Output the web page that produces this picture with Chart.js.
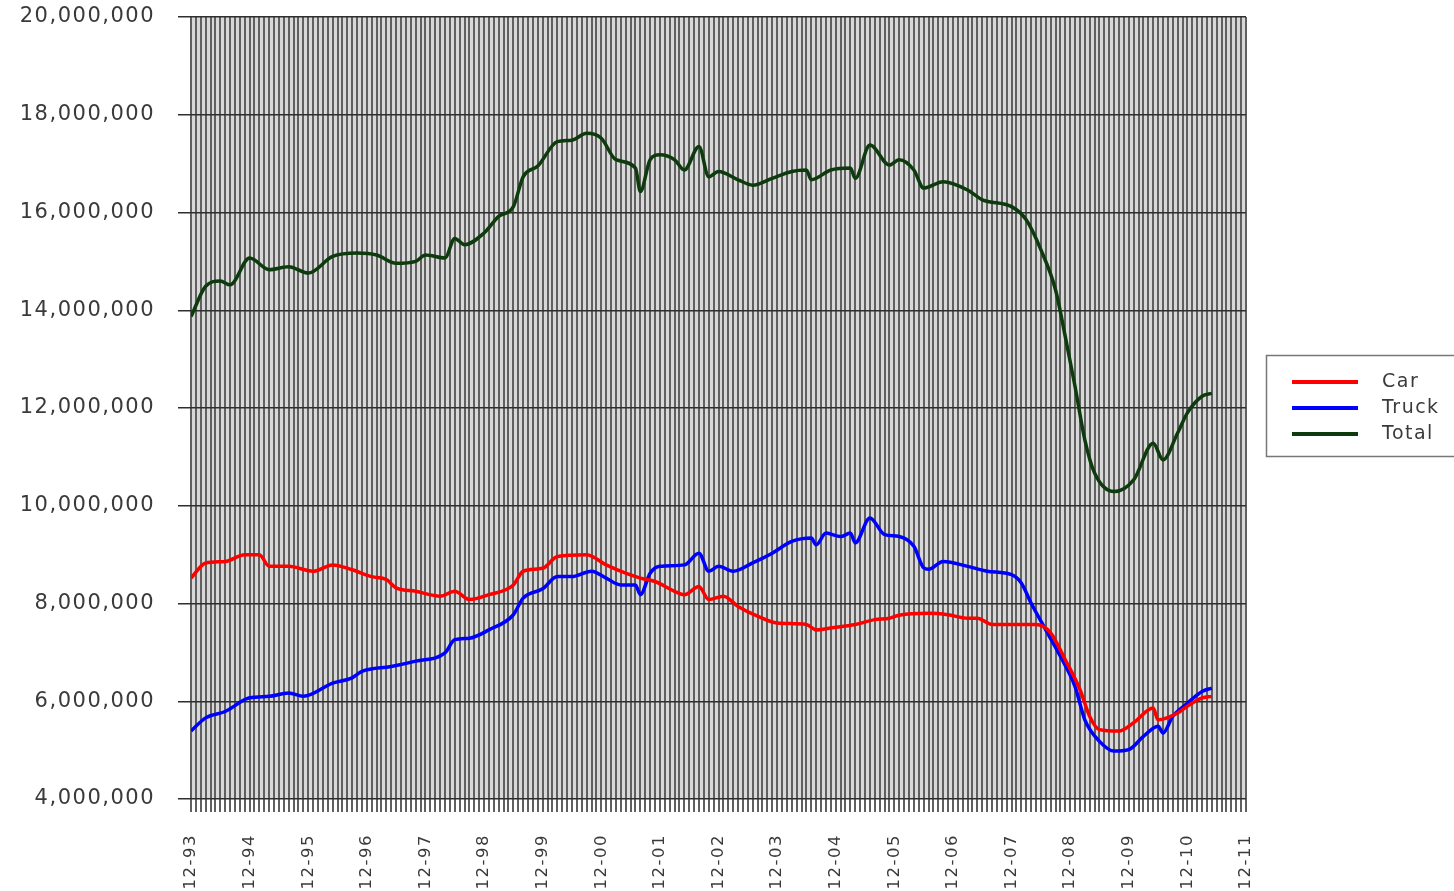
<!DOCTYPE html>
<html>
<head>
<meta charset="utf-8">
<script src="https://cdn.jsdelivr.net/npm/chart.js@4.4.1/dist/chart.umd.min.js"></script>
<style>
  html, body { margin: 0; padding: 0; background: #fff; }
  #chart-wrap { width: 1454px; height: 891px; }
</style>
</head>
<body>
<div id="chart-wrap"><canvas id="chart"></canvas></div>
<script>
// months counted from 12-93 (0) to 12-11 (216); values in millions
const TOTAL_MONTHS = [0, 3, 6, 8, 12, 16, 20, 24, 29, 34, 38, 42, 46, 48, 52, 54, 56, 60, 63, 66, 68, 71, 75, 78, 81, 84, 87, 91, 92, 94, 96, 99, 101, 104, 106, 108, 112, 115, 119, 123, 126, 127, 131, 135, 136, 139, 143, 145, 148, 150, 154, 159, 162, 168, 171, 174, 177, 179, 181, 183, 185, 189, 193, 197, 199, 202, 204, 207, 209];
const TOTAL_VALUES = [13.87, 14.49, 14.60, 14.52, 15.07, 14.83, 14.89, 14.76, 15.10, 15.17, 15.13, 14.96, 15.00, 15.13, 15.07, 15.47, 15.34, 15.58, 15.92, 16.12, 16.73, 16.95, 17.45, 17.48, 17.62, 17.52, 17.08, 16.91, 16.43, 17.08, 17.18, 17.08, 16.87, 17.35, 16.73, 16.84, 16.67, 16.56, 16.70, 16.84, 16.87, 16.67, 16.87, 16.91, 16.70, 17.38, 16.97, 17.08, 16.87, 16.50, 16.63, 16.46, 16.26, 16.12, 15.85, 15.24, 14.42, 13.46, 12.44, 11.35, 10.67, 10.29, 10.53, 11.28, 10.94, 11.49, 11.90, 12.24, 12.30];

const CAR_MONTHS = [0, 3, 7, 11, 14, 16, 20, 25, 29, 33, 37, 40, 42, 46, 51, 54, 57, 61, 66, 68, 72, 75, 81, 85, 89, 92, 95, 99, 101, 104, 106, 109, 112, 116, 120, 126, 128, 131, 136, 140, 143, 145, 151, 155, 159, 161, 164, 169, 173, 176, 179, 182, 184, 186, 190, 193, 197, 198, 202, 204, 207, 209];
const CAR_VALUES = [8.52, 8.83, 8.86, 9.00, 9.00, 8.76, 8.76, 8.66, 8.79, 8.69, 8.55, 8.49, 8.32, 8.25, 8.15, 8.25, 8.08, 8.18, 8.38, 8.66, 8.72, 8.96, 9.00, 8.79, 8.62, 8.52, 8.45, 8.25, 8.18, 8.35, 8.08, 8.15, 7.94, 7.74, 7.60, 7.57, 7.46, 7.50, 7.57, 7.67, 7.70, 7.76, 7.80, 7.77, 7.70, 7.70, 7.57, 7.57, 7.57, 7.40, 6.85, 6.24, 5.69, 5.42, 5.39, 5.56, 5.86, 5.62, 5.76, 5.90, 6.07, 6.10];

const TRUCK_MONTHS = [0, 3, 7, 12, 16, 20, 23, 29, 33, 35, 41, 46, 52, 54, 57, 61, 66, 68, 72, 75, 78, 82, 85, 88, 91, 92, 94, 96, 101, 104, 106, 108, 111, 115, 119, 123, 127, 128, 130, 133, 135, 136, 139, 142, 145, 148, 150, 151, 154, 159, 163, 168, 170, 172, 175, 178, 181, 183, 186, 189, 192, 195, 198, 199, 201, 204, 207, 209];
const TRUCK_VALUES = [5.39, 5.66, 5.79, 6.07, 6.10, 6.17, 6.10, 6.37, 6.48, 6.61, 6.71, 6.82, 6.99, 7.26, 7.29, 7.46, 7.77, 8.11, 8.30, 8.55, 8.55, 8.66, 8.52, 8.38, 8.38, 8.18, 8.62, 8.76, 8.79, 9.03, 8.66, 8.76, 8.66, 8.83, 9.03, 9.27, 9.34, 9.20, 9.44, 9.37, 9.44, 9.24, 9.75, 9.41, 9.37, 9.17, 8.73, 8.70, 8.86, 8.76, 8.66, 8.59, 8.42, 8.01, 7.46, 6.92, 6.30, 5.62, 5.18, 4.98, 5.01, 5.28, 5.49, 5.35, 5.69, 5.96, 6.20, 6.27];

const FIRST_YEAR = 93;
const Y_MIN = 4000000;
const Y_MAX = 20000000;
const Y_STEP = 2000000;

const TEXT_COLOR = '#3a3a3a';
const FONT_FAMILY = '"DejaVu Sans", sans-serif';

const toPoints = (months, values) => months.map((m, i) => ({ x: m, y: values[i] * 1e6 }));

function make_dataset(label, months, values, color) {
  return {
    label: label,
    data: toPoints(months, values),
    borderColor: color,
    backgroundColor: color,
    borderWidth: 3.5,
    pointRadius: 0,
    cubicInterpolationMode: 'monotone',
  };
}

const plotBackground = {
  id: 'plotBackground',
  beforeLayout(chart) {
    chart.ctx.letterSpacing = '1.5px';
  },
  beforeDraw(chart) {
    const { ctx, chartArea: a } = chart;
    ctx.letterSpacing = '1.5px';
    ctx.save();
    ctx.fillStyle = '#d8d8d8';
    ctx.fillRect(a.left, a.top, a.right - a.left, a.bottom - a.top);
    ctx.restore();
  },
};

const legendBox = {
  id: 'legendBox',
  afterDraw(chart) {
    const ctx = chart.ctx;
    const left = chart.chartArea.right + 20;
    const top = 355;
    ctx.save();
    ctx.fillStyle = '#fff';
    ctx.fillRect(left, top, 220, 101);
    ctx.strokeStyle = '#777';
    ctx.lineWidth = 1.5;
    ctx.strokeRect(left + 0.5, top + 0.5, 220, 101);
    ctx.font = `19px ${FONT_FAMILY}`;
    ctx.textBaseline = 'middle';
    chart.data.datasets.forEach((ds, i) => {
      const y = top + 27 + i * 26;
      ctx.strokeStyle = ds.borderColor;
      ctx.lineWidth = 4;
      ctx.beginPath();
      ctx.moveTo(left + 26, y);
      ctx.lineTo(left + 92, y);
      ctx.stroke();
      ctx.fillStyle = TEXT_COLOR;
      ctx.fillText(ds.label, left + 116, y);
    });
    ctx.restore();
  },
};

const CHART_OPTIONS = {
  responsive: true,
  maintainAspectRatio: false,
  animation: false,
  layout: {
    padding: { left: 0, top: 17, right: 208, bottom: 0 },
  },
  scales: {
    x: {
      type: 'linear',
      min: 0,
      max: 216,
      border: { display: false },
      grid: {
        color: '#606060',
        lineWidth: 2,
        tickLength: 13,
      },
      ticks: {
        stepSize: 1,
        autoSkip: false,
        maxRotation: 90,
        minRotation: 90,
        padding: 22,
        color: TEXT_COLOR,
        font: { family: FONT_FAMILY, size: 16.5 },
        callback: v => v % 12 === 0 ? `12-${String((FIRST_YEAR + v / 12) % 100).padStart(2, '0')}` : '',
      },
      afterFit: scale => { scale.height = 92; },
    },
    y: {
      min: Y_MIN,
      max: Y_MAX,
      border: { display: false },
      grid: {
        color: '#2e2e2e',
        lineWidth: 1.5,
        tickLength: 13,
      },
      ticks: {
        stepSize: Y_STEP,
        padding: 23,
        color: TEXT_COLOR,
        font: { family: FONT_FAMILY, size: 21 },
        callback: v => v.toLocaleString('en-US'),
      },
      afterFit: scale => {
        scale.width = 191;
        scale.paddingTop = 0;
        scale.paddingBottom = 0;
      },
    },
  },
  plugins: {
    legend: { display: false },
    tooltip: { enabled: false },
  },
};

(() => {
  new Chart(document.getElementById('chart'), {
    type: 'line',
    data: {
      datasets: [
        make_dataset('Car', CAR_MONTHS, CAR_VALUES, '#ff0000'),
        make_dataset('Truck', TRUCK_MONTHS, TRUCK_VALUES, '#0000ff'),
        make_dataset('Total', TOTAL_MONTHS, TOTAL_VALUES, '#0d3b0d'),
      ],
    },
    options: CHART_OPTIONS,
    plugins: [plotBackground, legendBox],
  });
})();
</script>
</body>
</html>
